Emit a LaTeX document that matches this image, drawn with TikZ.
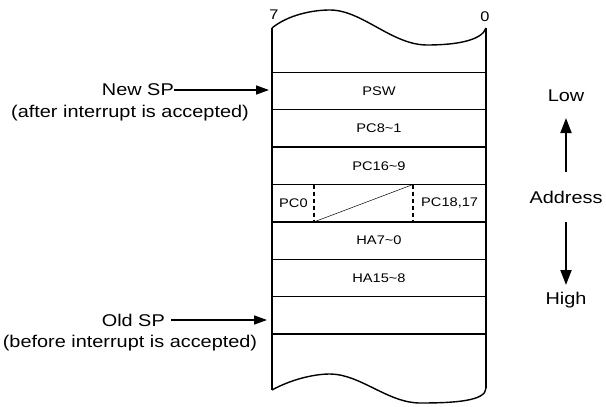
\documentclass[tikz,border=0pt]{standalone}
\usepackage{fontspec}
\setmainfont{Liberation Sans}[FakeStretch=1.17]
\usetikzlibrary{arrows.meta}
\begin{document}
\begin{tikzpicture}[x=1pt,y=-1pt,
  cell/.style={draw,line width=1.4pt,minimum width=214pt,minimum height=37.4pt,inner sep=0pt,font=\fontsize{12.5}{14}\selectfont},
  lbl/.style={font=\fontsize{17}{19}\selectfont,inner sep=0pt},
  side/.style={line width=1.4pt},
  ptr/.style={line width=1.6pt,-{Triangle[length=13pt,width=9pt]}},
  dir/.style={line width=2pt,-{Triangle[length=15pt,width=11pt]}}]
\useasboundingbox (0,0) rectangle (606,407);
% rows
\node[cell] (r1) at (379,91) {PSW};
\node[cell] (r2) at (379,128.4) {PC8\textasciitilde1};
\node[cell] (r3) at (379,165.8) {PC16\textasciitilde9};
\node[cell] (r4) at (379,203.2) {};
\node[cell] (r5) at (379,240.6) {HA7\textasciitilde0};
\node[cell] (r6) at (379,278) {HA15\textasciitilde8};
\node[cell] (r7) at (379,315.4) {};
% PC0 row contents
\coordinate (d1t) at (314,184.5);
\coordinate (d1b) at (314,221.9);
\coordinate (d2t) at (413,184.5);
\coordinate (d2b) at (413,221.9);
\draw[dashed,line width=1.1pt,dash pattern=on 4pt off 3pt] (d1t) -- (d1b);
\draw[dashed,line width=1.1pt,dash pattern=on 4pt off 3pt] (d2t) -- (d2b);
\draw[line width=0.5pt] (d1b) -- (d2t);
\node[font=\fontsize{12.5}{14}\selectfont,anchor=west,inner sep=0pt] (pc0) at (279,203.2) {PC0};
\node[font=\fontsize{12.5}{14}\selectfont,anchor=west,inner sep=0pt] (pc18) at (421,203.2) {PC18,17};
% sides and waves
\coordinate (tl) at (272,28);
\coordinate (tr) at (486,28);
\coordinate (bl) at (272,390);
\coordinate (br) at (486,388);
\draw[side] (tl) -- (bl);
\draw[side] (tr) -- (br);
\draw[side] (tl) .. controls (288,15) and (312,10) .. (330,10)
  .. controls (362,10) and (392,45) .. (427,45)
  .. controls (458,45) and (482,40) .. (tr);
\draw[side] (bl) .. controls (290,380) and (313,374) .. (330,374)
  .. controls (360,374) and (388,403) .. (420,403)
  .. controls (455,403) and (486,401) .. (br);
\node[font=\fontsize{14}{15}\selectfont,inner sep=0pt] (b7) at (274,15) {7};
\node[font=\fontsize{14}{15}\selectfont,inner sep=0pt] (b0) at (485,17) {0};
% pointers
\node[lbl,anchor=east] (nsp) at (174,90) {New SP};
\node[lbl] (nspc) at (130,113) {(after interrupt is accepted)};
\coordinate (nspt) at (269,90);
\draw[ptr] (nsp.east) -- (nspt);
\node[lbl,anchor=east] (osp) at (165,320) {Old SP};
\node[lbl] (ospc) at (130,343) {(before interrupt is accepted)};
\coordinate (ospt) at (267,320);
\draw[ptr] ([xshift=6pt]osp.east) -- (ospt);
% address direction
\node[lbl] (low) at (566,96) {Low};
\node[lbl] (addr) at (566,197) {Address};
\node[lbl] (high) at (566,300) {High};
\draw[dir] (566,172) -- (566,118);
\draw[dir] (566,222) -- (566,285);
\end{tikzpicture}
\end{document}
